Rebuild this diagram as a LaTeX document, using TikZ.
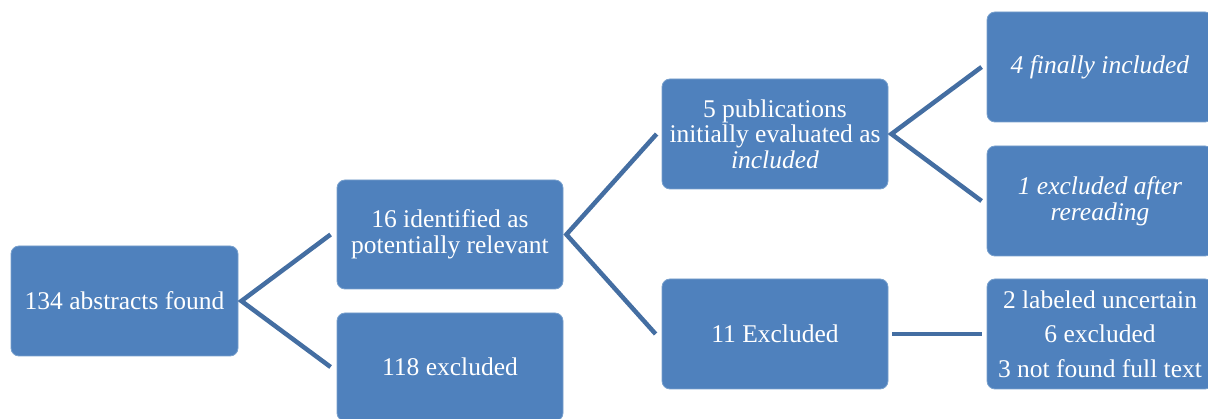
\documentclass[tikz,border=0pt]{standalone}
\usepackage{fontspec}
\setmainfont{Liberation Serif}
\definecolor{boxblue}{RGB}{79,129,189}
\definecolor{linkblue}{RGB}{68,110,162}
\definecolor{edgeblue}{RGB}{120,160,205}
\begin{document}
\begin{tikzpicture}[x=1pt,y=-1pt,
  box/.style={draw=edgeblue,line width=0.8pt,fill=boxblue,rounded corners=8pt,
    minimum width=226pt,minimum height=110pt,align=center,text=white,
    font=\fontsize{25.5}{25.5}\selectfont,inner sep=1pt},
  conn/.style={draw=linkblue,line width=4.5pt}]
\useasboundingbox (0,0) rectangle (1208,419);
\node[box,minimum width=227pt] (A) at (124.5,301) {134 abstracts found};
\node[box,minimum height=109pt] (B) at (450,234.5) {16 identified as\\potentially relevant};
\node[box,minimum height=108pt] (C) at (450,367) {118 excluded};
\node[box] (D) at (775,134) {5 publications\\initially evaluated as\\\textit{included}};
\node[box] (E) at (775,334) {11 Excluded};
\node[box] (F) at (1100,67) {\textit{4 finally included}};
\node[box] (G) at (1100,201) {\textit{1 excluded after}\\\textit{rereading}};
\node[box] (H) at (1100,334) {2 labeled uncertain\\[9pt]6 excluded\\[9pt]3 not found full text};
\draw[conn] ([xshift=-6pt]B.west) -- ([xshift=3pt]A.east) -- ([xshift=-6pt]C.west);
\draw[conn] ([xshift=-5pt]D.west) -- ([xshift=3pt]B.east) -- ([xshift=-6pt]E.west);
\draw[conn] ([xshift=-5pt]F.west) -- ([xshift=3pt]D.east) -- ([xshift=-5pt]G.west);
\draw[conn] ([xshift=4pt]E.east) -- ([xshift=-5pt]H.west);
\end{tikzpicture}
\end{document}
